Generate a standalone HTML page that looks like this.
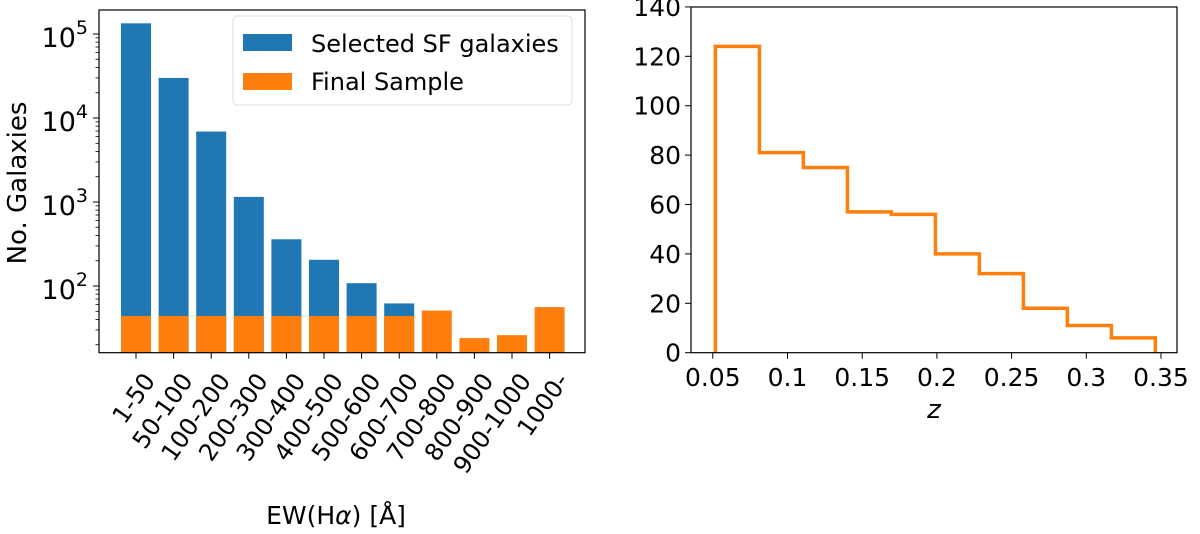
<!DOCTYPE html>
<html><head><meta charset="utf-8"><style>
body{margin:0;background:#fff;}
svg text{font-family:"DejaVu Sans","Liberation Sans",sans-serif;fill:#000;}
</style></head><body>
<svg id="c" width="1200" height="529" xmlns="http://www.w3.org/2000/svg"></svg>
<script>
const cats=["1-50","50-100","100-200","200-300","300-400","400-500","500-600","600-700","700-800","800-900","900-1000","1000-"];
const selVals=[134000,30000,6900,1150,360,205,108,62,0,0,0,0];
const finVals=[44,44,44,44,44,44,44,44,51,24,26,56];
const yTicks=[2,3,4,5];
const zEdges=[0.0517,0.0812,0.1106,0.1401,0.1695,0.199,0.2284,0.2579,0.2873,0.3168,0.3462];
const zCounts=[124,81,75,57,56,40,32,18,11,6];
const zTicks=["0.05","0.1","0.15","0.2","0.25","0.3","0.35"];
const cTicks=[0,20,40,60,80,100,120,140];

const svg=document.getElementById('c');
const NS='http://www.w3.org/2000/svg';
function mk(t,a,txt){const e=document.createElementNS(NS,t);for(const k in a)e.setAttribute(k,a[k]);if(txt!==undefined)e.textContent=txt;svg.appendChild(e);return e;}

// left axes
const L={x0:99,x1:585,y0:10,y1:352.7};
const ly=v=>286-(Math.log10(v)-2)*84;
const lx=i=>136+i*37.6;
const bw=30;
for(let i=0;i<cats.length;i++){
  if(selVals[i]>0){
    const r=mk('rect',{x:lx(i)-bw/2,y:ly(selVals[i]),width:bw,height:L.y1-ly(selVals[i]),fill:'#1f77b4'});
    
    
  }
  const o=mk('rect',{x:lx(i)-bw/2,y:ly(finVals[i]),width:bw,height:L.y1-ly(finVals[i]),fill:'#ff7f0e'});
  
  
  mk('line',{x1:lx(i),x2:lx(i),y1:L.y1,y2:L.y1+6,stroke:'#000','stroke-width':1});
  const ax=lx(i)+20, ay=L.y1+28;
  const t=mk('text',{x:ax,y:ay,'font-size':24,'text-anchor':'end',transform:`rotate(-55 ${ax} ${ay})`},cats[i]);
  
  
}
for(let d=1;d<=5;d++)for(let m=2;m<=9;m++){const v=m*Math.pow(10,d);const y=ly(v);if(y>L.y0&&y<L.y1)mk('line',{x1:L.x0-3.5,x2:L.x0,y1:y,y2:y,stroke:'#000','stroke-width':0.8});}
yTicks.forEach(p=>{const y=ly(Math.pow(10,p));mk('line',{x1:L.x0-6,x2:L.x0,y1:y,y2:y,stroke:'#000','stroke-width':1});
  const t=mk('text',{x:88,y:y+13,'font-size':27,'text-anchor':'end'});
  t.innerHTML='10<tspan dy="-13" font-size="19">'+p+'</tspan>';
  
  });
const lb=mk('rect',{x:L.x0,y:L.y0,width:L.x1-L.x0,height:L.y1-L.y0,fill:'none',stroke:'#000','stroke-width':1.2});

const yl=mk('text',{x:0,y:0,'font-size':26,'text-anchor':'middle',transform:'translate(26 183) rotate(-90)'},'No. Galaxies');

const xl=mk('text',{x:336,y:524,'font-size':25,'text-anchor':'middle'});
xl.innerHTML='EW(H<tspan font-style="italic">α</tspan>) [Å]';

// legend
const lg=mk('rect',{x:233,y:16,width:339,height:89,rx:4,fill:'#fff','fill-opacity':0.8,stroke:'#ddd','stroke-width':1});

mk('rect',{x:243,y:34,width:49,height:17,fill:'#1f77b4'});
const l1=mk('text',{x:311,y:52,'font-size':24},'Selected SF galaxies');

mk('rect',{x:243,y:73,width:49,height:17,fill:'#ff7f0e'});
const l2=mk('text',{x:311,y:90,'font-size':24},'Final Sample');


// right axes
const R={x0:691,x1:1177,y0:7,y1:352.7};
const rx=z=>712.8+(z-0.05)*1494;
const ry=c=>352.7-c*2.47;
let d=`M${rx(zEdges[0])},${ry(0)}`;
for(let i=0;i<zCounts.length;i++){d+=` L${rx(zEdges[i])},${ry(zCounts[i])} L${rx(zEdges[i+1])},${ry(zCounts[i])}`;}
d+=` L${rx(zEdges[zEdges.length-1])},${ry(0)}`;
const st=mk('path',{d:d,fill:'none',stroke:'#ff7f0e','stroke-width':3.5});

zTicks.forEach(s=>{const x=rx(parseFloat(s));mk('line',{x1:x,x2:x,y1:R.y1,y2:R.y1+6,stroke:'#000'});
  const t=mk('text',{x:x,y:386,'font-size':25,'text-anchor':'middle'},s);
  });
cTicks.forEach(v=>{const y=ry(v);mk('line',{x1:R.x0-6,x2:R.x0,y1:y,y2:y,stroke:'#000'});
  const t=mk('text',{x:R.x0-10,y:y+9,'font-size':25,'text-anchor':'end'},v);
  });
const rb=mk('rect',{x:R.x0,y:R.y0,width:R.x1-R.x0,height:R.y1-R.y0,fill:'none',stroke:'#000','stroke-width':1.2});

const zl=mk('text',{x:934,y:418,'font-size':26,'font-style':'italic','text-anchor':'middle'},'z');

</script>
</body></html>
